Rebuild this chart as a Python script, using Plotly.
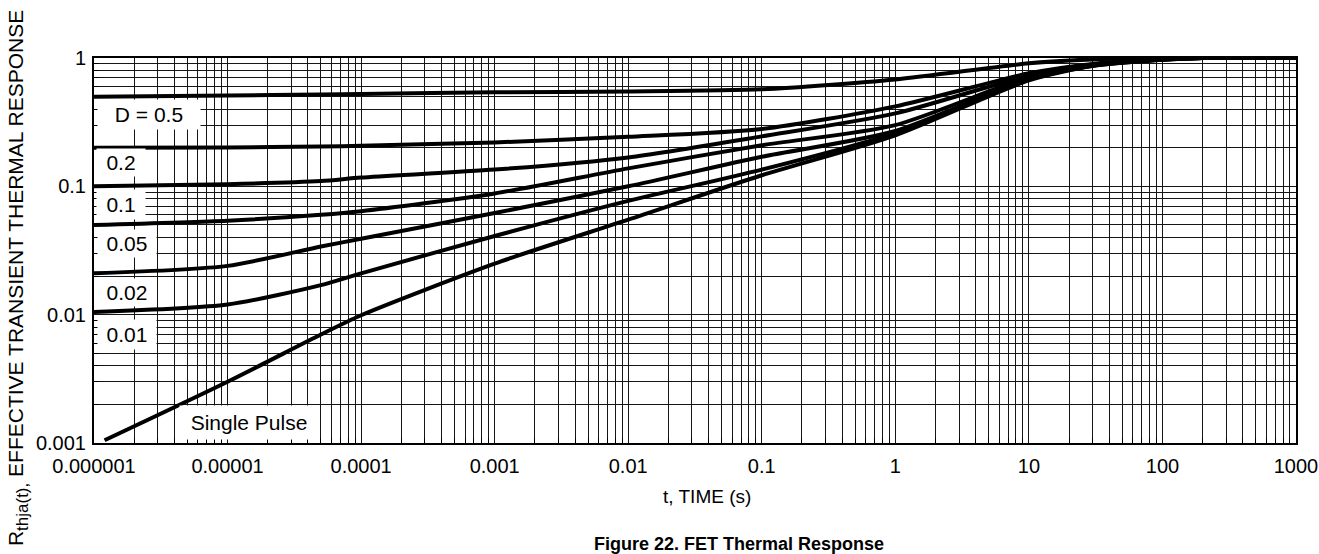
import plotly.graph_objects as go

# ---------------- data ----------------
t_duty = [1e-6, 1e-5, 5e-5, 1e-4, 1e-3, 1e-2, 0.1, 1, 10, 30, 100, 200, 1000]
d_050 = [0.50, 0.51, 0.52, 0.525, 0.54, 0.548, 0.57, 0.68, 0.91, 0.975, 0.998, 1.0, 1.0]
d_020 = [0.20, 0.201, 0.204, 0.207, 0.22, 0.243, 0.28, 0.42, 0.76, 0.90, 0.98, 1.0, 1.0]
d_010 = [0.10, 0.104, 0.11, 0.117, 0.135, 0.168, 0.245, 0.37, 0.73, 0.89, 0.977, 1.0, 1.0]
d_005 = [0.05, 0.054, 0.06, 0.064, 0.088, 0.138, 0.209, 0.30, 0.71, 0.88, 0.975, 1.0, 1.0]
d_002 = [0.021, 0.024, 0.034, 0.039, 0.062, 0.10, 0.17, 0.27, 0.69, 0.875, 0.972, 1.0, 1.0]
d_001 = [0.0105, 0.012, 0.017, 0.021, 0.041, 0.077, 0.135, 0.26, 0.68, 0.87, 0.97, 1.0, 1.0]

t_single = [1.2e-6, 1e-5, 5e-5, 1e-4, 1e-3, 1e-2, 0.1, 1, 10, 30, 100, 200, 1000]
single = [0.00105, 0.003, 0.007, 0.0099, 0.025, 0.055, 0.122, 0.25, 0.67, 0.865, 0.968, 1.0, 1.0]

x_tickvals = [1e-6, 1e-5, 1e-4, 1e-3, 1e-2, 1e-1, 1, 10, 100, 1000]
x_ticktext = ["0.000001", "0.00001", "0.0001", "0.001", "0.01", "0.1", "1", "10", "100", "1000"]
y_tickvals = [0.001, 0.01, 0.1, 1]
y_ticktext = ["0.001", "0.01", "0.1", "1"]

# curve labels: text, log10(t) position, log10(value) position, box width, box height
labels = ["D = 0.5", "0.2", "0.1", "0.05", "0.02", "0.01", "Single Pulse"]
label_x = [-5.588, -5.80, -5.80, -5.752, -5.752, -5.752, -4.839]
label_y = [-0.444, -0.818, -1.138, -1.442, -1.824, -2.151, -2.837]
label_w = [102, 48, 48, 58, 58, 58, 138]
label_h = [29, 27, 29, 27, 27, 29, 33]

FONT = "Liberation Sans, Arial, Helvetica, sans-serif"

fig = go.Figure()
series = [(t_duty, d_050), (t_duty, d_020), (t_duty, d_010), (t_duty, d_005),
          (t_duty, d_002), (t_duty, d_001), (t_single, single)]
for tx, vy in series:
    fig.add_trace(go.Scatter(x=tx, y=vy, mode="lines",
                             line=dict(color="black", width=4, shape="spline", smoothing=0.7),
                             cliponaxis=False, showlegend=False, hoverinfo="skip"))

minor_x = [k * 10.0 ** e for e in range(-6, 3) for k in range(2, 10)]
minor_y = [k * 10.0 ** e for e in range(-3, 0) for k in range(2, 10)]

GRID = "#151515"
fig.update_xaxes(type="log", range=[-6, 3], tickmode="array", tickvals=x_tickvals,
                 ticktext=x_ticktext, showgrid=True, gridcolor=GRID, gridwidth=1.2,
                 ticks="", showline=True, linecolor="black", linewidth=2, mirror=True,
                 tickfont=dict(family=FONT, size=20, color="black"), automargin=False,
                 ticklabelstandoff=4, zeroline=False,
                 minor=dict(tickmode="array", tickvals=minor_x, showgrid=True,
                            gridcolor=GRID, gridwidth=1.2, ticks="inside", ticklen=5,
                            tickcolor="black"))
fig.update_yaxes(type="log", range=[-3, 0], tickmode="array", tickvals=y_tickvals,
                 ticktext=y_ticktext, showgrid=True, gridcolor=GRID, gridwidth=1.2,
                 ticks="", showline=True, linecolor="black", linewidth=2, mirror=True,
                 tickfont=dict(family=FONT, size=20, color="black"), automargin=False,
                 ticklabelstandoff=2, zeroline=False,
                 minor=dict(tickmode="array", tickvals=minor_y, showgrid=True,
                            gridcolor=GRID, gridwidth=1.2, ticks="inside", ticklen=5,
                            tickcolor="black"))

annotations = []
for txt, lx, ly, w, h in zip(labels, label_x, label_y, label_w, label_h):
    annotations.append(dict(x=lx, y=ly, xref="x", yref="y", text=txt, showarrow=False,
                            font=dict(family=FONT, size=21, color="black"),
                            bgcolor="white", width=w, height=h, xanchor="center",
                            yanchor="middle", borderpad=0))

annotations.append(dict(x=0.51, y=-0.14, xref="paper", yref="paper", text="t, TIME (s)",
                        showarrow=False, xanchor="center", yanchor="middle",
                        font=dict(family=FONT, size=19, color="black")))
annotations.append(dict(x=0.537, y=-0.262, xref="paper", yref="paper",
                        text="<b>Figure 22. FET Thermal Response</b>",
                        showarrow=False, xanchor="center", yanchor="middle",
                        font=dict(family=FONT, size=18, color="black")))
annotations.append(dict(x=-0.063, y=0.429, xref="paper", yref="paper",
                        text="R<sub><span style='font-size:17px'>thja(t),</span></sub> EFFECTIVE TRANSIENT THERMAL RESPONSE",
                        textangle=-90, showarrow=False, xanchor="center", yanchor="middle",
                        font=dict(family=FONT, size=21, color="black")))

fig.update_layout(template="none", width=1319, height=554,
                  margin=dict(l=94, r=23, t=58, b=111, autoexpand=False),
                  font=dict(family=FONT, color="black"),
                  plot_bgcolor="white", paper_bgcolor="white",
                  annotations=annotations, showlegend=False)

fig.write_html("out.html", config={"displayModeBar": False},
               post_script="document.body.style.margin='0';document.body.style.overflow='hidden';")
